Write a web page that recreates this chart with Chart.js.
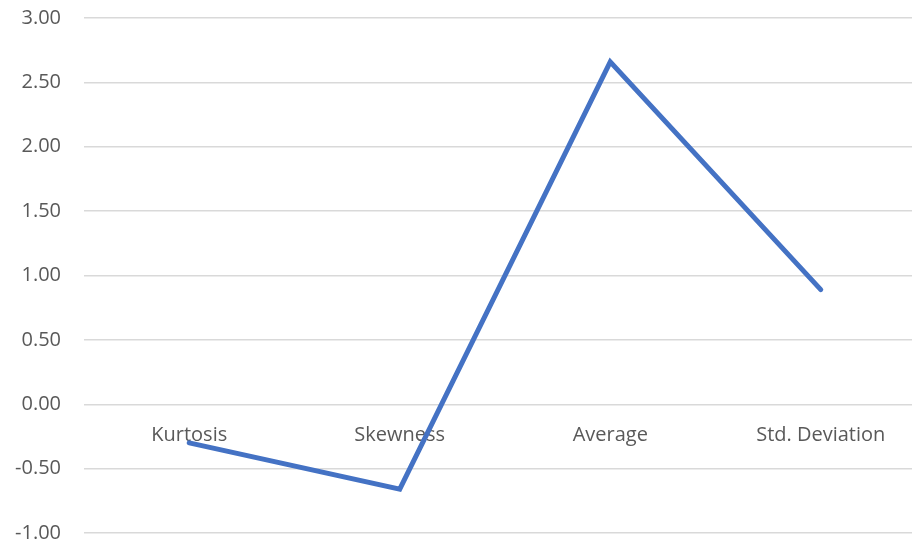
<!DOCTYPE html>
<html>
<head>
<meta charset="utf-8">
<script src="https://cdn.jsdelivr.net/npm/chart.js@4"></script>
<style>
html,body{margin:0;padding:0;background:#fff;overflow:hidden;width:912px;height:545px;position:relative;}
#wrap{position:absolute;left:0;top:-17px;width:926px;height:585px;}
</style>
</head>
<body>
<div id="wrap"><canvas id="c" width="926" height="585"></canvas></div>
<script>
const categories = ["Kurtosis", "Skewness", "Average", "Std. Deviation"];
const values = [-0.30, -0.66, 2.66, 0.89];
const yMin = -1, yMax = 3, yStep = 0.5;

new Chart(document.getElementById('c'), {
  type: 'line',
  data: {
    labels: categories,
    datasets: [{
      data: values,
      borderColor: '#4472C4',
      borderWidth: 5,
      pointRadius: 0,
      borderCapStyle: 'round',
      borderJoinStyle: 'miter',
      tension: 0,
      fill: false
    }]
  },
  options: {
    responsive: false,
    animation: false,
    devicePixelRatio: 1,
    layout: { padding: 0 },
    plugins: { legend: { display: false }, tooltip: { enabled: false } },
    scales: {
      x: {
        position: { y: 0 },
        offset: true,
        grid: { display: false, drawTicks: false },
        border: { display: false },
        ticks: { color: '#595959', font: { family: 'Open Sans', size: 20 }, padding: 19, maxRotation: 0, autoSkip: false }
      },
      y: {
        min: yMin, max: yMax,
        grid: { color: '#d9d9d9', lineWidth: 1.5, drawTicks: false },
        border: { display: false },
        ticks: {
          stepSize: yStep,
          color: '#595959',
          font: { family: 'Open Sans', size: 20 },
          padding: 23,
          callback: v => Number(v).toFixed(2)
        },
        afterFit: s => { s.width = 84; }
      }
    }
  }
});
</script>
</body>
</html>
